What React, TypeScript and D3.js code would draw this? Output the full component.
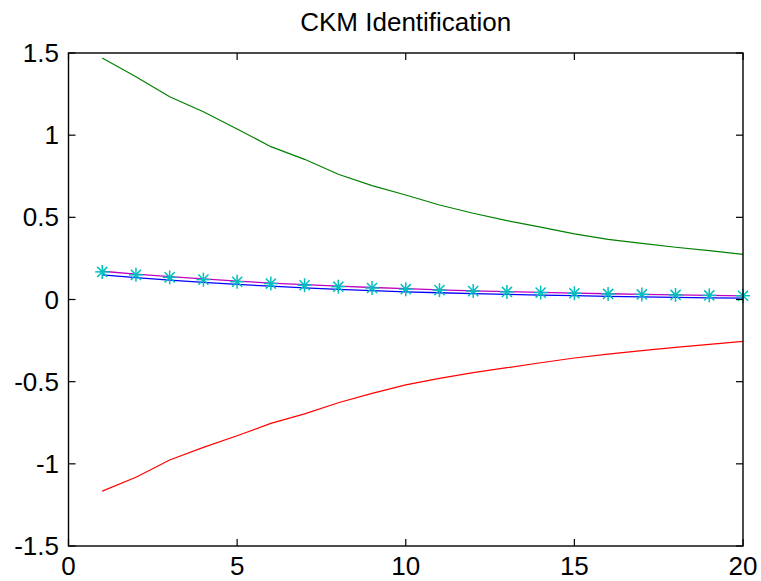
import React from "react";
import * as d3 from "d3";

// Horizon index
const periods = d3.range(1, 21);

// Upper and lower bands
const upperBand = [1.47, 1.356, 1.234, 1.143, 1.038, 0.93, 0.853, 0.762, 0.693, 0.636, 0.575, 0.525, 0.48, 0.44, 0.399, 0.366, 0.342, 0.318, 0.297, 0.275];
const lowerBand = [-1.166, -1.082, -0.977, -0.9, -0.829, -0.754, -0.696, -0.628, -0.571, -0.52, -0.48, -0.445, -0.415, -0.385, -0.356, -0.332, -0.311, -0.291, -0.273, -0.255];

// Central responses
const magentaLine = [0.172, 0.155, 0.139, 0.125, 0.112, 0.1, 0.09, 0.081, 0.073, 0.066, 0.059, 0.053, 0.048, 0.043, 0.039, 0.035, 0.031, 0.028, 0.025, 0.022];
const blueLine = [0.15, 0.133, 0.118, 0.104, 0.092, 0.081, 0.071, 0.062, 0.054, 0.047, 0.041, 0.036, 0.031, 0.027, 0.023, 0.019, 0.016, 0.013, 0.01, 0.008];
const starLine = [0.168, 0.15, 0.135, 0.121, 0.108, 0.097, 0.087, 0.078, 0.07, 0.063, 0.057, 0.051, 0.046, 0.042, 0.038, 0.034, 0.031, 0.028, 0.025, 0.023];

const xTicks = [0, 5, 10, 15, 20];
const yTicks = [-1.5, -1, -0.5, 0, 0.5, 1, 1.5];

const W = 761;
const H = 581;
const left = 68.5;
const right = 743;
const top = 53;
const bottom = 546;

export default function App() {
  const x = d3.scaleLinear().domain([0, 20]).range([left, right]);
  const y = d3.scaleLinear().domain([-1.5, 1.5]).range([bottom, top]);
  const line = d3
    .line<number>()
    .x((_, i) => x(periods[i]))
    .y((d) => y(d));

  const font = "Arial, 'Liberation Sans', Helvetica, sans-serif";
  const tickLen = 7;
  const star = 7;

  return (
    <svg
      width={W}
      height={H}
      style={{ position: "absolute", left: 0, top: 0, background: "#fff" }}
      fontFamily={font}
    >
      <rect x={0} y={0} width={W} height={H} fill="#fff" />
      <text x={(left + right) / 2} y={31} textAnchor="middle" fontSize={26} fill="#000">
        CKM Identification
      </text>

      <path d={line(upperBand) ?? ""} fill="none" stroke="#008000" strokeWidth={1.2} />
      <path d={line(lowerBand) ?? ""} fill="none" stroke="#ff0000" strokeWidth={1.2} />
      <path d={line(blueLine) ?? ""} fill="none" stroke="#0000ff" strokeWidth={1.3} />
      <path d={line(magentaLine) ?? ""} fill="none" stroke="#bf00bf" strokeWidth={1.3} />
      {starLine.map((v, i) => {
        const cx = x(periods[i]);
        const cy = y(v);
        const dd = star * 0.72;
        return (
          <g key={i} stroke="#00bfbf" strokeWidth={1.5}>
            <line x1={cx - star} y1={cy} x2={cx + star} y2={cy} />
            <line x1={cx} y1={cy - star} x2={cx} y2={cy + star} />
            <line x1={cx - dd} y1={cy - dd} x2={cx + dd} y2={cy + dd} />
            <line x1={cx - dd} y1={cy + dd} x2={cx + dd} y2={cy - dd} />
          </g>
        );
      })}

      {/* axes box and inward ticks */}
      <rect x={left} y={top} width={right - left} height={bottom - top} fill="none" stroke="#000" strokeWidth={1.4} />
      {xTicks.map((t) => (
        <g key={"x" + t} stroke="#000" strokeWidth={1.2}>
          <line x1={x(t)} x2={x(t)} y1={bottom} y2={bottom - tickLen} />
          <line x1={x(t)} x2={x(t)} y1={top} y2={top + tickLen} />
        </g>
      ))}
      {yTicks.map((t) => (
        <g key={"y" + t} stroke="#000" strokeWidth={1.2}>
          <line x1={left} x2={left + tickLen} y1={y(t)} y2={y(t)} />
          <line x1={right} x2={right - tickLen} y1={y(t)} y2={y(t)} />
        </g>
      ))}
      {xTicks.map((t) => (
        <text key={"xl" + t} x={x(t)} y={575} textAnchor="middle" fontSize={26} fill="#000">
          {t}
        </text>
      ))}
      {yTicks.map((t) => (
        <text key={"yl" + t} x={59} y={y(t) + 9} textAnchor="end" fontSize={26} fill="#000">
          {String(t)}
        </text>
      ))}
    </svg>
  );
}
